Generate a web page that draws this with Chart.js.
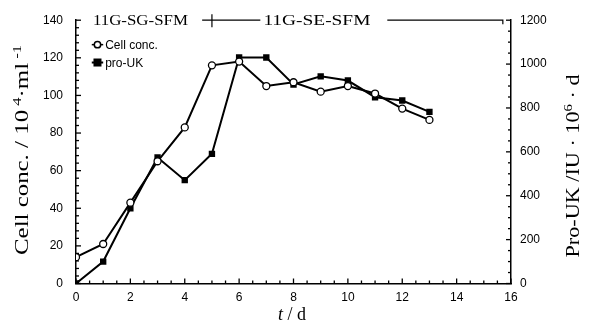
<!DOCTYPE html>
<html><head><meta charset="utf-8">
<script src="https://cdn.jsdelivr.net/npm/chart.js@4.4.1/dist/chart.umd.min.js"></script>
<style>html,body{margin:0;padding:0;background:#fff}#w{width:589px;height:333px}</style>
</head><body><div id="w"><canvas id="c"></canvas></div>
<script>
const days = [0,1,2,3,4,5,6,7,8,9,10,11,12,13];
const cellConc = [14,21,43,65,83,116,118,105,107,102,105,101,93,87];
const proUK = [0,100,343,574,471,591,1030,1030,907,944,925,849,834,782];
const xTicks = [0,2,4,6,8,10,12,14,16];
const leftTicks = [0,20,40,60,80,100,120,140];
const rightTicks = [0,200,400,600,800,1000,1200];

const tickFont = {family:'"Liberation Sans", Arial, sans-serif', size:12};
const serif = '"Liberation Serif", "Times New Roman", serif';

function richText(ctx, parts, cx, cy, targetLen, rot){
  let total = 0;
  parts.forEach(p=>{ ctx.font = (p.style||'')+' '+p.size+'px '+serif; p.w = ctx.measureText(p.t).width; total += p.w; });
  ctx.save();
  ctx.translate(cx, cy); ctx.rotate(rot);
  const k = targetLen ? targetLen/total : 1;
  ctx.scale(k, 1);
  let xx = -total/2;
  ctx.textBaseline='alphabetic'; ctx.textAlign='left'; ctx.fillStyle='#000';
  parts.forEach(p=>{ ctx.font = (p.style||'')+' '+p.size+'px '+serif; ctx.fillText(p.t, xx, 6 - (p.rise||0)); xx += p.w; });
  ctx.restore();
}

const inwardTicks = {
  id:'inwardTicks',
  afterDraw(chart){
    const ctx = chart.ctx, x = chart.scales.x, yl = chart.scales.yL, yr = chart.scales.yR;
    ctx.save(); ctx.strokeStyle='#000'; ctx.lineWidth=1.3;
    for(let v=0; v<=16.001; v+=0.5){
      const p = x.getPixelForValue(v), len = (v%2===0)?5:3;
      ctx.beginPath(); ctx.moveTo(p, x.top); ctx.lineTo(p, x.top-len); ctx.stroke();
    }
    for(let v=0; v<=140.001; v+=4){
      const p = yl.getPixelForValue(v), len = (v%20===0)?5:3;
      ctx.beginPath(); ctx.moveTo(yl.right, p); ctx.lineTo(yl.right+len, p); ctx.stroke();
    }
    for(let v=0; v<=1200.001; v+=50){
      const p = yr.getPixelForValue(v), len = (v%200===0)?5:3;
      ctx.beginPath(); ctx.moveTo(yr.left, p); ctx.lineTo(yr.left-len, p); ctx.stroke();
    }
    // header annotation
    const yTop = yl.getPixelForValue(140);
    richText(ctx, [{t:'11G-SG-SFM',size:14}], x.getPixelForValue(2.37), yTop-1, 95, 0);
    richText(ctx, [{t:'11G-SE-SFM',size:14}], x.getPixelForValue(8.86), yTop-1, 107, 0);
    ctx.lineWidth=1.2;
    ctx.beginPath(); ctx.moveTo(x.getPixelForValue(4.64), yTop); ctx.lineTo(x.getPixelForValue(6.78), yTop); ctx.stroke();
    const tx = x.getPixelForValue(5.0);
    ctx.beginPath(); ctx.moveTo(tx, yTop-6); ctx.lineTo(tx, yTop+7); ctx.stroke();
    ctx.beginPath(); ctx.moveTo(x.getPixelForValue(11.45), yTop); ctx.lineTo(x.getPixelForValue(15.7), yTop); ctx.lineTo(x.getPixelForValue(15.7), yTop+4); ctx.stroke();
    // legend
    const lx = x.getPixelForValue(0.58), lx2 = x.getPixelForValue(1.0);
    const r1 = yl.getPixelForValue(127), r2 = yl.getPixelForValue(117.5);
    ctx.lineWidth=1.5;
    ctx.beginPath(); ctx.moveTo(lx, r1); ctx.lineTo(lx2, r1); ctx.stroke();
    ctx.beginPath(); ctx.arc((lx+lx2)/2, r1, 3.2, 0, Math.PI*2); ctx.fillStyle='#fff'; ctx.fill(); ctx.stroke();
    ctx.lineWidth=2;
    ctx.beginPath(); ctx.moveTo(lx, r2); ctx.lineTo(lx2, r2); ctx.stroke();
    ctx.fillStyle='#000'; ctx.fillRect((lx+lx2)/2-4, r2-4, 8, 8);
    ctx.font='12px "Liberation Sans", Arial, sans-serif'; ctx.textBaseline='middle'; ctx.textAlign='left';
    ctx.fillText('Cell conc.', lx2+2, r1+1);
    ctx.fillText('pro-UK', lx2+2, r2+1);
    // axis titles
    richText(ctx, [{t:'Cell conc. / 10',size:18},{t:' 4',size:12,rise:7},{t:'·ml',size:18},{t:' -1',size:12,rise:7}], 22, 150, 210, -Math.PI/2);
    richText(ctx, [{t:'Pro-UK /IU · 10',size:18},{t:'6',size:12,rise:7},{t:' · d',size:18}], 573, 166, 183, -Math.PI/2);
    richText(ctx, [{t:'t',size:18,style:'italic'},{t:' / d',size:18}], 292, 314, 0, 0);
    ctx.restore();
  }
};

new Chart(document.getElementById('c'), {
  type:'line',
  data:{
    datasets:[
      {label:'Cell conc.', data: days.map((d,i)=>({x:d,y:cellConc[i]})), yAxisID:'yL',
       borderColor:'#000', borderWidth:2, pointStyle:'circle', pointRadius:3.5,
       pointBackgroundColor:'#fff', pointBorderColor:'#000', pointBorderWidth:1.3, tension:0},
      {label:'pro-UK', data: days.map((d,i)=>({x:d,y:proUK[i]})), yAxisID:'yR',
       borderColor:'#000', borderWidth:2, pointStyle:'rect', pointRadius:4.5,
       pointBackgroundColor:'#000', pointBorderColor:'#000', pointBorderWidth:0, tension:0}
    ]
  },
  options:{
    responsive:true, maintainAspectRatio:false, animation:false,
    layout:{padding:{top:18, left:0, right:0, bottom:0}},
    plugins:{legend:{display:false}, tooltip:{enabled:false}},
    scales:{
      x:{type:'linear', min:0, max:16,
        afterBuildTicks(s){ s.ticks = xTicks.map(v=>({value:v})); },
        afterFit(s){ s.height = 49.5; },
        grid:{display:true, drawOnChartArea:false, drawTicks:false},
        border:{display:true, color:'#000', width:1.5},
        ticks:{color:'#000', font:tickFont, padding:7, maxRotation:0, callback:v=>String(v)}
      },
      yL:{type:'linear', position:'left', min:0, max:140,
        afterBuildTicks(s){ s.ticks = leftTicks.map(v=>({value:v})); },
        afterFit(s){ s.width = 76; },
        grid:{display:true, drawOnChartArea:false, drawTicks:false},
        border:{display:true, color:'#000', width:1.5},
        ticks:{color:'#000', font:tickFont, padding:13, callback:v=>String(v)}
      },
      yR:{type:'linear', position:'right', min:0, max:1200,
        afterBuildTicks(s){ s.ticks = rightTicks.map(v=>({value:v})); },
        afterFit(s){ s.width = 78; },
        grid:{display:true, drawOnChartArea:false, drawTicks:false},
        border:{display:true, color:'#000', width:1.5},
        ticks:{color:'#000', font:tickFont, padding:9, callback:v=>String(v)}
      }
    }
  },
  plugins:[inwardTicks]
});
</script></body></html>
